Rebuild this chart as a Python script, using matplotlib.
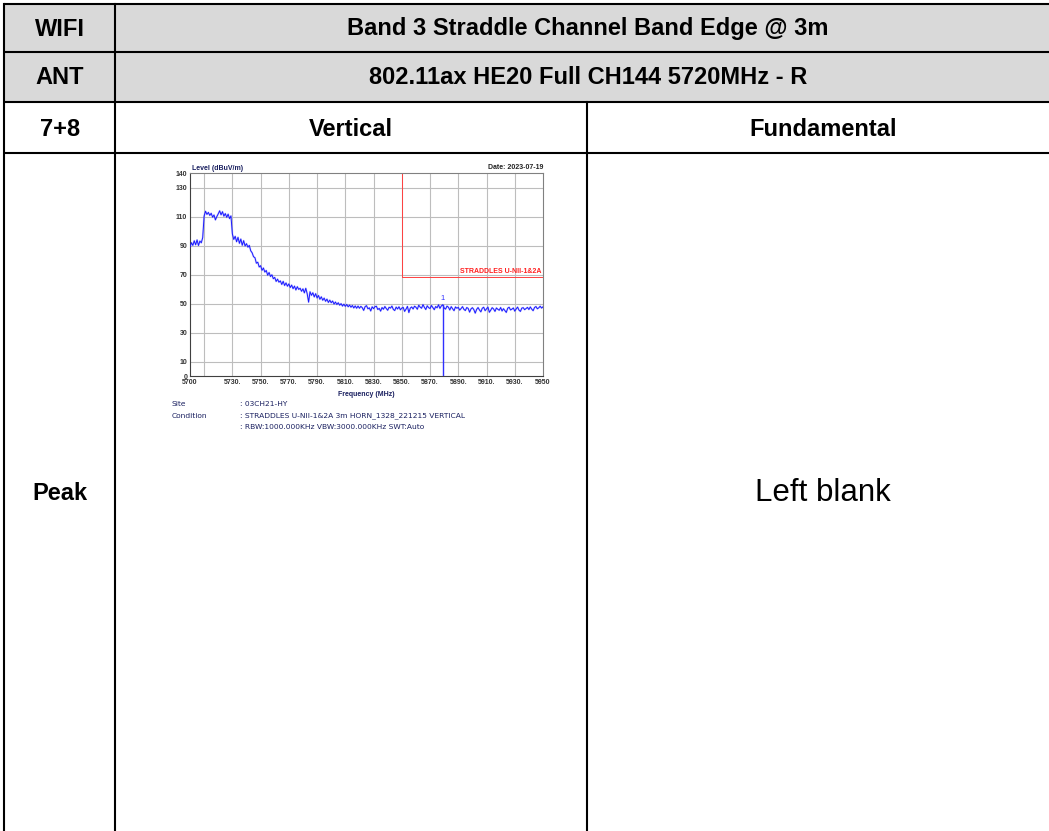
import numpy as np
import matplotlib
matplotlib.use("Agg")
import matplotlib.pyplot as plt
from matplotlib.patches import Rectangle

plt.rcParams['font.family'] = ['Liberation Sans', 'DejaVu Sans']

# table text
row_heads = ["WIFI", "ANT", "7+8", "Peak"]
title_text = "Band 3 Straddle Channel Band Edge @ 3m"
mode_text = "802.11ax HE20 Full CH144 5720MHz - R"
col_heads = ["Vertical", "Fundamental"]
blank_text = "Left blank"

# spectrum trace, one reading per MHz from 5700 to 5950
freq_start, freq_stop = 5700, 5950
levels = [
    89.0, 92.1, 90.2, 93.4, 90.6, 94.0, 90.1, 93.2, 92.0, 95.6,
    110.5, 113.8, 111.6, 113.0, 110.9, 112.4, 109.7, 111.2, 107.8, 110.1,
    112.0, 114.1, 111.3, 113.5, 110.4, 112.2, 109.6, 111.8, 108.7, 110.6,
    98.2, 94.3, 96.5, 92.7, 95.8, 91.6, 94.6, 90.3, 93.5, 89.8,
    91.4, 89.0, 90.2, 86.5, 85.1, 82.4, 81.7, 77.9, 78.6, 75.3,
    76.2, 73.0, 74.6, 71.8, 72.9, 69.6, 71.5, 68.7, 69.9, 67.2,
    68.1, 65.3, 66.9, 64.8, 65.7, 63.2, 65.4, 62.5, 64.3, 62.0,
    63.6, 61.1, 62.8, 60.3, 62.1, 59.4, 61.7, 59.8, 60.6, 58.5,
    60.2, 57.4, 60.6, 56.8, 51.0, 58.2, 55.7, 57.5, 54.6, 56.9,
    53.9, 55.6, 53.0, 54.7, 52.3, 53.8, 51.6, 53.1, 50.8, 52.4,
    50.6, 51.8, 49.7, 51.1, 49.4, 50.6, 48.9, 50.0, 48.3, 49.6,
    48.1, 49.4, 47.8, 49.0, 47.5, 48.7, 47.0, 48.4, 46.8, 48.3,
    46.8, 48.1, 47.2, 45.3, 47.9, 48.6, 46.4, 47.1, 44.9, 47.8,
    46.5, 47.9, 48.2, 45.9, 46.7, 44.8, 47.3, 46.1, 48.0, 46.6,
    45.4, 47.5, 46.9, 48.3, 46.0, 45.2, 47.6, 46.3, 47.8, 45.7,
    46.9, 47.4, 44.6, 46.2, 48.1, 43.8, 46.9, 47.7, 46.3, 48.2,
    47.5, 46.1, 48.9, 47.6, 46.8, 49.3, 47.4, 45.9, 48.5, 47.2,
    46.6, 48.7, 47.3, 45.8, 48.0, 47.1, 49.2, 46.7, 48.4, 49.2,
    47.0, 46.2, 48.3, 47.5, 45.6, 47.9, 46.4, 45.1, 47.7, 46.8,
    47.4, 45.5, 46.6, 47.9, 46.0, 45.2, 47.3, 46.7, 44.1, 46.3,
    47.2, 45.9, 43.4, 46.0, 47.3, 45.6, 44.3, 46.8, 47.5, 45.1,
    46.4, 47.6, 44.0, 45.5, 47.2, 46.3, 44.6, 47.0, 46.1, 45.4,
    47.3, 44.9, 46.5, 45.2, 43.9, 46.8, 47.5, 45.6, 46.2, 47.0,
    44.8, 46.3, 47.6, 45.5, 44.6, 46.9, 47.2, 45.8, 46.6, 47.4,
    45.9, 47.7, 46.2, 45.1, 47.3, 48.0, 46.4, 47.1, 48.2, 46.9,
    47.8,
]
limit_start = 5850
limit_level = 68.2
limit_label = "STRADDLES U-NII-1&2A"
marker_freq = 5879
marker_level = 49.2

x_ticks = [5700, 5730, 5750, 5770, 5790, 5810, 5830, 5850, 5870, 5890, 5910, 5930, 5950]
x_ticklabels = ["5700", "5730.", "5750.", "5770.", "5790.", "5810.", "5830.",
                "5850.", "5870.", "5890.", "5910.", "5930.", "5950"]
x_grid = [5710, 5730, 5750, 5770, 5790, 5810, 5830, 5850, 5870, 5890, 5910, 5930]
y_ticks = [0, 10, 30, 50, 70, 90, 110, 130, 140]
y_grid = [10, 30, 50, 70, 90, 110, 130]

info_keys = ["Site", "Condition", ""]
info_vals = [": 03CH21-HY",
             ": STRADDLES U-NII-1&2A 3m HORN_1328_221215 VERTICAL",
             ": RBW:1000.000KHz VBW:3000.000KHz SWT:Auto"]

W, H = 1049, 831
fig = plt.figure(figsize=(W / 100, H / 100), dpi=100)

# ---- table ----
t = fig.add_axes([0, 0, 1, 1])
t.set_xlim(0, W)
t.set_ylim(H, 0)
t.axis("off")
gray = "#d9d9d9"
t.add_patch(Rectangle((4, 4), W, 98, color=gray, lw=0))
lw = 1.5
for y in [4, 52, 102, 153]:
    t.plot([4, W], [y, y], color="black", lw=lw, solid_capstyle="butt")
t.plot([4, 4], [4, H], color="black", lw=lw)
t.plot([115, 115], [4, H], color="black", lw=lw)
t.plot([587, 587], [102, H], color="black", lw=lw)

hfont = dict(fontsize=17, fontweight="bold", ha="center", va="center")
t.text(60, 29, row_heads[0], **hfont)
t.text(60, 78, row_heads[1], **hfont)
t.text(60, 129, row_heads[2], **hfont)
t.text(60, 494, row_heads[3], **hfont)
t.text(588, 29, title_text, **hfont)
t.text(588, 78, mode_text, **hfont)
t.text(351, 129, col_heads[0], **hfont)
t.text(823, 129, col_heads[1], **hfont)
t.text(823, 493, blank_text, fontsize=22.5, ha="center", va="center")

# ---- spectrum plot ----
ax = fig.add_axes([190 / W, 1 - 376 / H, 353 / W, 202.7 / H])
freqs = np.arange(freq_start, freq_stop + 1)
ax.set_xlim(freq_start, freq_stop)
ax.set_ylim(0, 140)
for g in x_grid:
    ax.axvline(g, color="#bdbdbd", lw=0.8, zorder=0)
for g in y_grid:
    ax.axhline(g, color="#bdbdbd", lw=0.8, zorder=0)
ax.plot(freqs, levels, color="#8080ff", lw=1.4, alpha=0.35, zorder=2)
ax.plot(freqs, levels, color="#1a1aff", lw=0.7, zorder=3)

# limit line
ax.plot([limit_start, limit_start], [limit_level, 140], color="#ff4040", lw=0.7, zorder=2)
ax.plot([limit_start, freq_stop], [limit_level, limit_level], color="#ff4040", lw=0.7, zorder=2)
ax.text(freq_stop - 1, limit_level + 1.5, limit_label, color="#ff2020", fontsize=5,
        fontweight="bold", ha="right", va="bottom")

# marker
ax.plot([marker_freq, marker_freq], [0, marker_level], color="#3030ff", lw=1.0, zorder=4)
ax.text(marker_freq, marker_level + 2, "1", color="#3030ff", fontsize=5.5,
        ha="center", va="bottom")

ax.set_xticks(x_ticks)
ax.set_xticklabels(x_ticklabels)
ax.set_yticks(y_ticks)
ax.set_yticklabels([str(v) for v in y_ticks])
ax.tick_params(length=0, labelsize=5, pad=2, colors="#333333")
for lab in ax.get_xticklabels() + ax.get_yticklabels():
    lab.set_fontweight("bold")
for s in ax.spines.values():
    s.set_color("#808080")
    s.set_linewidth(0.8)
ax.spines["left"].set_color("#404040")
ax.spines["bottom"].set_color("#404040")

navy = "#1a2060"
ax.text(0.005, 1.005, "Level (dBuV/m)", transform=ax.transAxes, fontsize=5,
        fontweight="bold", color=navy, ha="left", va="bottom")
ax.text(1.0, 1.01, "Date: 2023-07-19", transform=ax.transAxes, fontsize=5,
        fontweight="bold", color="#222222", ha="right", va="bottom")
ax.text(0.5, -0.075, "Frequency (MHz)", transform=ax.transAxes, fontsize=5,
        fontweight="bold", color=navy, ha="center", va="top")

# info lines under the plot
for i, (k, v) in enumerate(zip(info_keys, info_vals)):
    y = 404 + i * 11.5
    t.text(172, y, k, fontsize=5.4, color=navy, ha="left", va="center", family="DejaVu Sans")
    t.text(240, y, v, fontsize=5.4, color=navy, ha="left", va="center", family="DejaVu Sans")

fig.savefig("out.png", dpi=100)
